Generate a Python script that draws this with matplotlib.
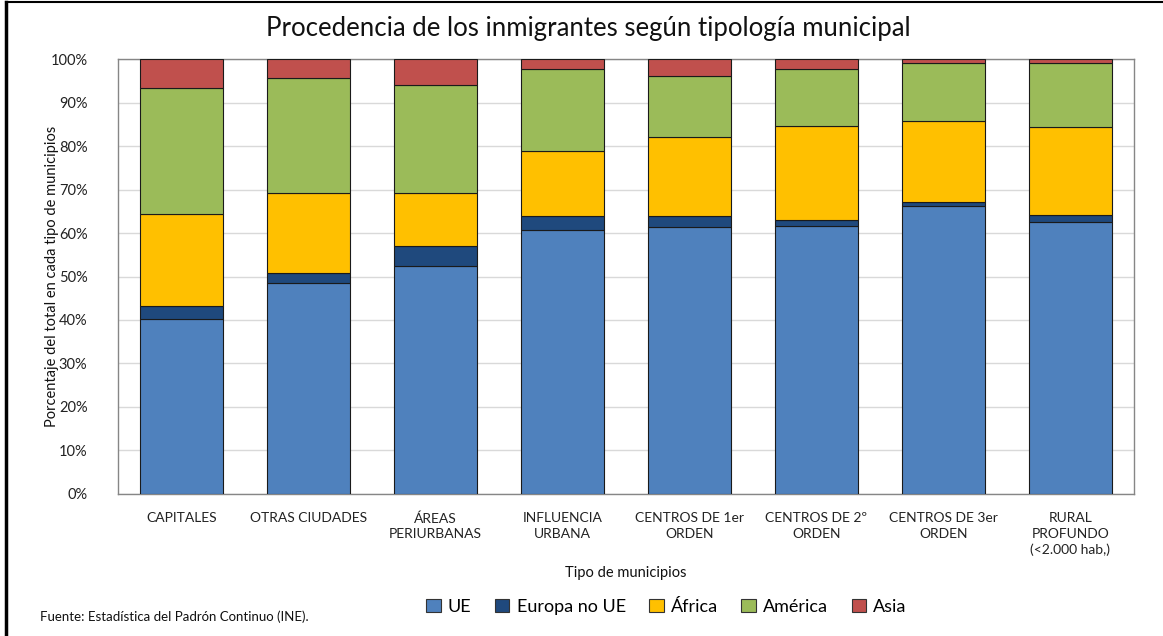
import matplotlib
matplotlib.use("Agg")
import matplotlib.pyplot as plt
from matplotlib.lines import Line2D
from matplotlib.patches import Patch
import numpy as np

categories = ["CAPITALES", "OTRAS CIUDADES", "ÁREAS\nPERIURBANAS", "INFLUENCIA\nURBANA",
              "CENTROS DE 1er\nORDEN", "CENTROS DE 2º\nORDEN", "CENTROS DE 3er\nORDEN",
              "RURAL\nPROFUNDO\n(<2.000 hab,)"]
ue = [40.3, 48.6, 52.5, 60.7, 61.3, 61.5, 66.2, 62.6]
europa_no_ue = [2.9, 2.1, 4.4, 3.2, 2.5, 1.4, 0.9, 1.5]
africa = [21.1, 18.6, 12.4, 14.9, 18.2, 21.8, 18.6, 20.2]
america = [29.0, 26.4, 24.8, 19.0, 14.0, 12.9, 13.4, 14.9]
asia = [6.7, 4.3, 5.9, 2.2, 4.0, 2.4, 0.9, 0.8]
series_names = ["UE", "Europa no UE", "África", "América", "Asia"]
colors = ["#4F81BD", "#1F497D", "#FFC000", "#9BBB59", "#C0504D"]
yticks = [0, 10, 20, 30, 40, 50, 60, 70, 80, 90, 100]

plt.rcParams['font.family'] = ['Lato', 'DejaVu Sans']

fig = plt.figure(figsize=(11.63, 6.36), dpi=100)
ax = fig.add_axes([0.1015, 0.2233, 0.975 - 0.1015, 0.9072 - 0.2233])

x = np.arange(len(categories))
bottom = np.zeros(len(categories))
for name, vals, c in zip(series_names, [ue, europa_no_ue, africa, america, asia], colors):
    vals = np.array(vals)
    ax.bar(x, vals, 0.66, bottom=bottom, color=c, edgecolor="#1a1a1a", linewidth=0.8, label=name, zorder=3)
    bottom += vals

ax.set_xlim(-0.5, len(categories) - 0.5)
ax.set_ylim(0, 100)
ax.set_yticks(yticks)
ax.set_yticklabels([f"{v}%" for v in yticks], fontsize=10.5, color="#222222")
ax.set_xticks(x)
ax.set_xticklabels(categories, fontsize=10, color="#222222", linespacing=1.35, va="top")
ax.tick_params(axis="both", length=0)
ax.tick_params(axis="x", pad=13)
ax.tick_params(axis="y", pad=22)
ax.yaxis.grid(True, color="#D9D9D9", linewidth=1, zorder=0)
ax.set_axisbelow(True)
for s in ax.spines.values():
    s.set_color("#868686")
    s.set_linewidth(1)

ax.set_ylabel("Porcentaje del total en cada tipo de municipios", fontsize=10.5, color="#111111")
ax.yaxis.set_label_coords(-0.058, 0.5)
ax.set_xlabel("Tipo de municipios", fontsize=10.5, color="#111111")
ax.xaxis.set_label_coords(0.5, -0.182)
ax.xaxis.label.set_va("center")

fig.text(0.506, 0.955, "Procedencia de los inmigrantes según tipología municipal",
         ha="center", va="center", fontsize=18.5, color="#111111")
fig.text(0.034, 0.030, "Fuente: Estadística del Padrón Continuo (INE).", ha="left", va="center",
         fontsize=9.5, color="#111111")

handles = [Patch(facecolor=c, edgecolor="#333333", linewidth=0.8) for c in colors]
fig.legend(handles, series_names, loc="center", bbox_to_anchor=(0.573, 0.046), ncol=5,
           frameon=False, fontsize=13, handlelength=0.8, handleheight=0.8,
           handletextpad=0.4, columnspacing=1.3)

# outer frame lines
fig.add_artist(Line2D([0.005, 0.005], [0.0, 0.997], transform=fig.transFigure, color="black", linewidth=2.5))
fig.add_artist(Line2D([0.005, 0.999], [0.997, 0.997], transform=fig.transFigure, color="black", linewidth=1.5))

fig.savefig("out.png", dpi=100, facecolor="white")
